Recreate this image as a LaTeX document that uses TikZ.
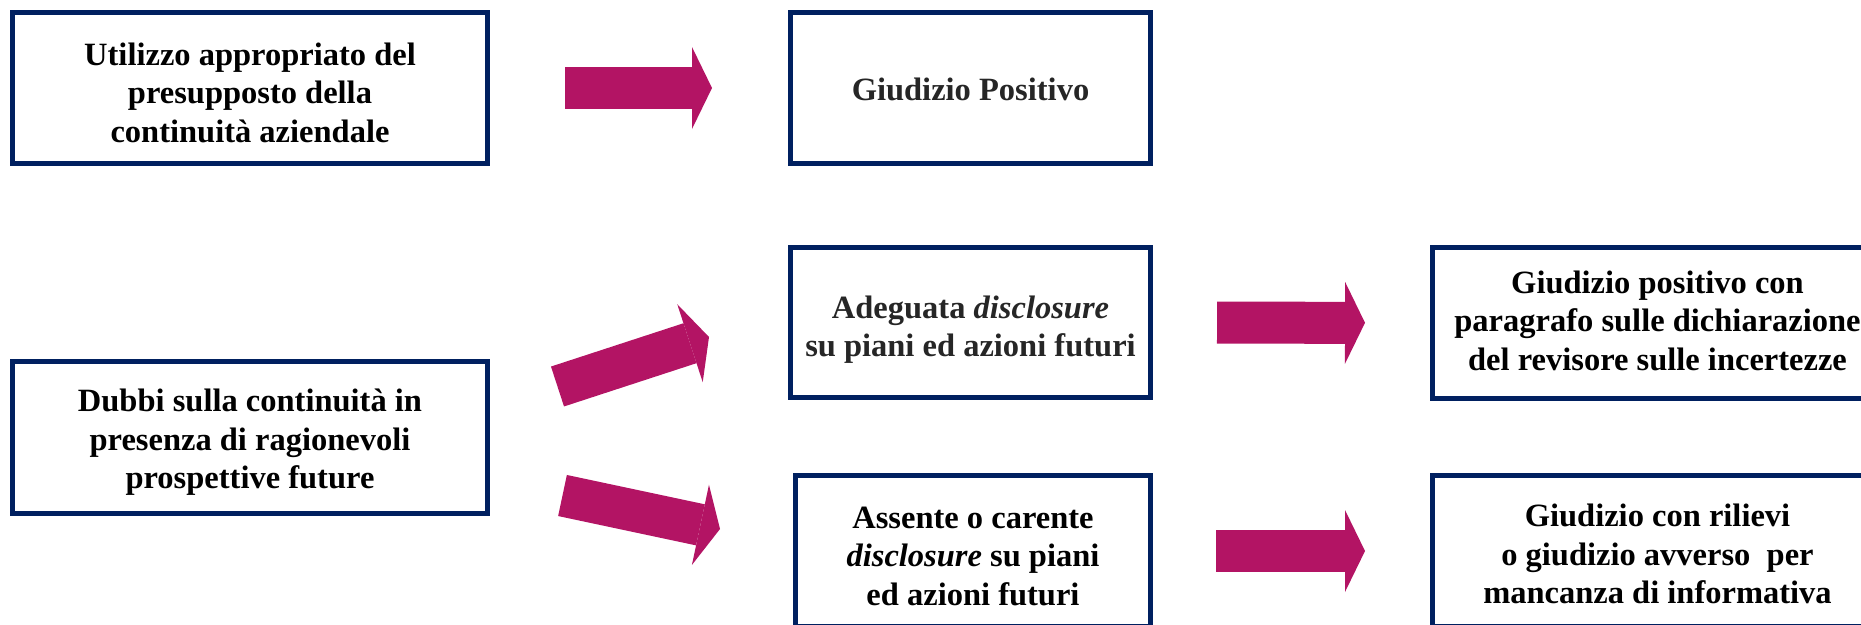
\documentclass[tikz,border=0pt]{standalone}
\usepackage{fontspec}
\setmainfont{Liberation Serif}
\usepackage{tikz}
\usetikzlibrary{calc, arrows.meta}
\definecolor{navyline}{HTML}{002060}
\definecolor{plum}{HTML}{B31464}
\definecolor{darktext}{HTML}{262626}
\tikzset{box/.style = {rectangle,draw=navyline,line width=5pt,fill=white,align=center,inner sep=0pt,
                       text depth=0pt,font=\fontsize{32.5}{38.5}\selectfont\bfseries}}
\tikzset{bigarrow/.style = {draw=plum,line width=42pt,-{Triangle[length=20pt,width=82pt,line width=0pt]}}}

\begin{document}
\begin{tikzpicture}[x=1pt,y=-1pt]
                    \useasboundingbox (0,0) rectangle (1861,624);
                    \clip (0,0) rectangle (1861,624);

                    \node [box, minimum width=475pt, minimum height=151pt, text height=108pt] (util) at (250,88)
                          {Utilizzo appropriato del\\presupposto della\\continuità aziendale};
                    \node [box, minimum width=360pt, minimum height=151pt, text height=25pt, text=darktext] (positivo) at (970.5,88)
                          {Giudizio Positivo};
                    \node [box, minimum width=475pt, minimum height=152pt, text height=102pt] (dubbi) at (250,437.5)
                          {Dubbi sulla continuità in\\presenza di ragionevoli\\prospettive future};
                    \node [box, minimum width=360pt, minimum height=150pt, text height=68pt, text=darktext] (adeguata) at (970.5,322.5)
                          {Adeguata \textit{disclosure}\\su piani ed azioni futuri};
                    \node [box, minimum width=355pt, minimum height=151pt, text height=108pt] (assente) at (973,551)
                          {Assente o carente\\\textit{disclosure} su piani\\ed azioni futuri};
                    \node [box, minimum width=450pt, minimum height=151pt, text height=94pt] (giudpos) at (1657.5,323)
                          {Giudizio positivo con\\paragrafo sulle dichiarazione\\del revisore sulle incertezze};
                    \node [box, minimum width=450pt, minimum height=151pt, text height=105pt] (rilievi) at (1657.5,551)
                          {Giudizio con rilievi\\o giudizio avverso\ \ per\\mancanza di informativa};

                    \draw [bigarrow, shorten <=75pt, shorten >=76pt] (util) -- (positivo);
                    \draw [bigarrow] ($(dubbi.east)+(67.5,-51)$) -- ($(adeguata.west)+(-79,14.5)$);
                    \draw [bigarrow] ($(dubbi.east)+(72.5,58)$) -- ($(assente.west)+(-73,-22)$);
                    \draw [bigarrow, shorten <=64pt, shorten >=65pt] (adeguata) -- (giudpos);
                    \draw [bigarrow, shorten <=63pt, shorten >=65pt] (assente) -- (rilievi);
                \end{tikzpicture}
\end{document}
